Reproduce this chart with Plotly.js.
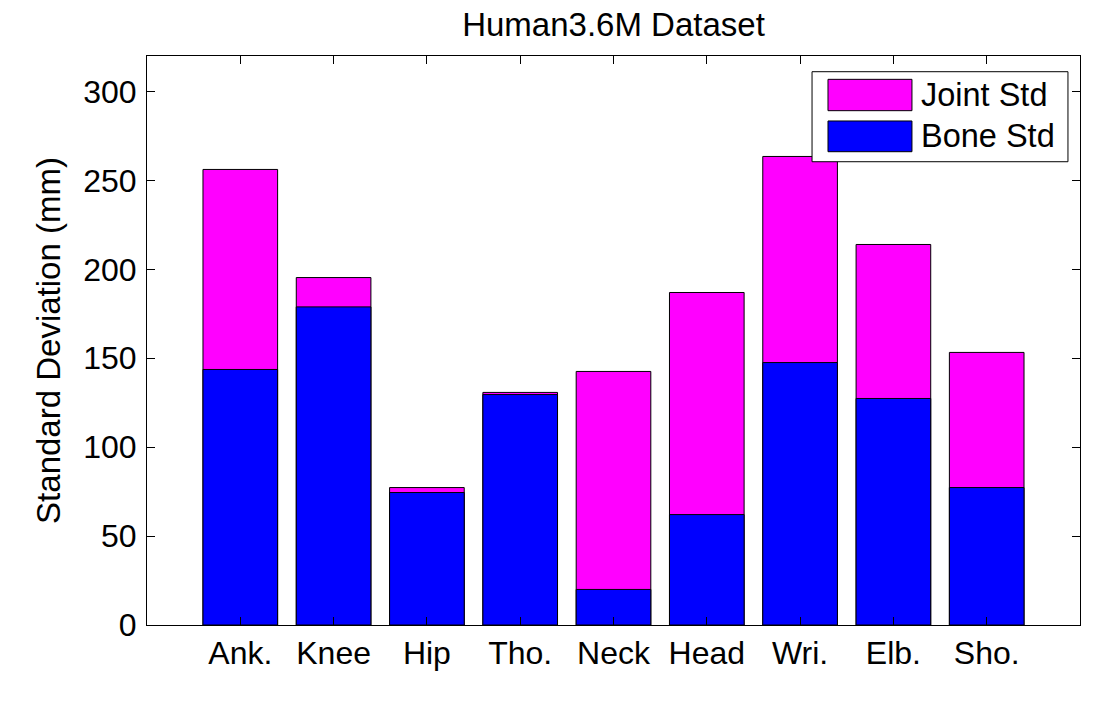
<!DOCTYPE html>
<html>
<head>
<meta charset="utf-8">
<script src="https://cdn.plot.ly/plotly-3.0.1.min.js"></script>
<style>
  html, body { margin: 0; padding: 0; background: #fff; }
  #chart { width: 1110px; height: 704px; }
</style>
</head>
<body>
<div id="chart"></div>
<script>
// joints along the x axis
const joints = ['Ank.', 'Knee', 'Hip', 'Tho.', 'Neck', 'Head', 'Wri.', 'Elb.', 'Sho.']
const positions = [1, 2, 3, 4, 5, 6, 7, 8, 9]
// standard deviations in mm
const jointStd = [256.2, 195.4, 77.3, 130.8, 142.6, 187.0, 263.5, 214.0, 153.3]
const boneStd = [143.7, 178.9, 74.5, 129.6, 20.0, 62.1, 147.6, 127.4, 77.3]
const seriesNames = ['Joint Std', 'Bone Std']
const seriesColors = ['#ff00ff', '#0000ff']
const yTicks = [0, 50, 100, 150, 200, 250, 300]

const font = 'Liberation Sans, Arial, Helvetica, sans-serif'

const traces = [jointStd, boneStd].map((vals, i) => ({
  type: 'bar',
  x: positions,
  y: vals,
  name: seriesNames[i],
  width: 0.8,
  marker: { color: seriesColors[i], line: { color: '#000', width: 1 } },
  hoverinfo: 'x+y+name'
}))

// legend drawn as a MATLAB style box (big swatches)
const legendBox = { x0: 0.7128, x1: 0.9871, y0: 0.8142, y1: 0.9724 }
const swatchX = [0.7299, 0.8199]
const rowY = [[0.9039, 0.9590], [0.8318, 0.8858]]
const shapes = [{
  type: 'rect', xref: 'paper', yref: 'paper',
  x0: legendBox.x0, x1: legendBox.x1, y0: legendBox.y0, y1: legendBox.y1,
  line: { color: '#000', width: 1 }, fillcolor: '#fff', layer: 'above'
}]
const annotations = []
seriesNames.forEach((name, i) => {
  shapes.push({
    type: 'rect', xref: 'paper', yref: 'paper',
    x0: swatchX[0], x1: swatchX[1], y0: rowY[i][0], y1: rowY[i][1],
    line: { color: '#000', width: 1 }, fillcolor: seriesColors[i], layer: 'above'
  })
  annotations.push({
    xref: 'paper', yref: 'paper', x: 0.8275, y: (rowY[i][0] + rowY[i][1]) / 2,
    xanchor: 'left', yanchor: 'middle', showarrow: false,
    text: name, font: { family: font, size: 32.5, color: '#000' }
  })
})

const layout = {
  width: 1110,
  height: 704,
  margin: { l: 147, r: 30, t: 56, b: 79 },
  paper_bgcolor: '#fff',
  plot_bgcolor: '#fff',
  barmode: 'overlay',
  showlegend: false,
  title: {
    text: 'Human3.6M Dataset',
    font: { family: font, size: 33, color: '#000' },
    x: 0.5527, xanchor: 'center', y: 0.965, yanchor: 'middle'
  },
  xaxis: {
    range: [0, 10],
    tickvals: positions,
    ticktext: joints,
    ticks: 'inside',
    ticklen: 8,
    tickwidth: 1,
    tickcolor: '#000',
    showline: true,
    linecolor: '#000',
    linewidth: 1,
    mirror: 'ticks',
    showgrid: false,
    zeroline: false,
    tickfont: { family: font, size: 32, color: '#000' },
    ticklabelstandoff: 0
  },
  yaxis: {
    range: [0, 320],
    tickvals: yTicks,
    ticks: 'inside',
    ticklen: 8,
    tickwidth: 1,
    tickcolor: '#000',
    showline: true,
    linecolor: '#000',
    linewidth: 1,
    mirror: 'ticks',
    showgrid: false,
    zeroline: false,
    tickfont: { family: font, size: 32, color: '#000' },
    ticklabelstandoff: 3,
    title: {
      text: 'Standard Deviation (mm)',
      font: { family: font, size: 33, color: '#000' },
      standoff: 12
    }
  },
  shapes: shapes,
  annotations: annotations
}

Plotly.newPlot('chart', traces, layout, { displayModeBar: false, staticPlot: true })
</script>
</body>
</html>
